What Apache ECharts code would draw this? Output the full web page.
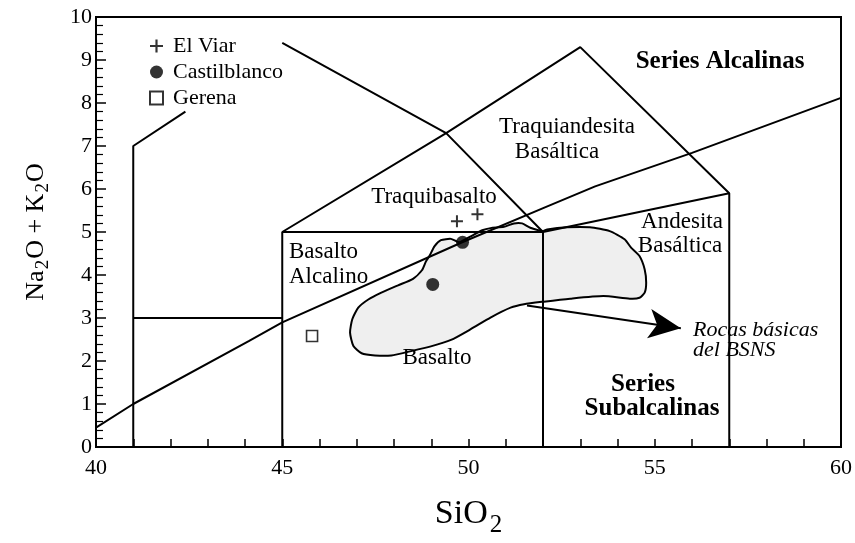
<!DOCTYPE html>
<html>
<head>
<meta charset="utf-8">
<script src="https://cdn.jsdelivr.net/npm/echarts@6/dist/echarts.min.js"></script>
<style>
  html, body { margin: 0; padding: 0; background: #fff; }
  #main { width: 855px; height: 543px; }
</style>
</head>
<body>
<div id="main"></div>
<script>
// limites de campos (diagrama TAS)
var lineFoid = [[41, 0], [41, 7], [42.4, 7.8]];
var lineBasan = [[41, 3], [45, 3]];
var lineBasalt = [[45, 0], [45, 5], [52, 5], [52, 0]];
var lineTraq = [[45, 5], [49.4, 7.3], [53, 9.3], [57, 5.9], [57, 0]];
var lineAndes = [[52, 5], [57, 5.9]];
var linePhono = [[45, 9.4], [49.4, 7.3], [52, 5]];
// linea alcalina / subalcalina
var lineDivide = [[40, 0.45], [41, 1.0], [44.1, 2.46], [45, 2.9], [49.8, 4.75], [52.1, 5.59], [53.4, 6.06], [56, 6.84], [60, 8.12]];

// campo de rocas basicas del BSNS
var fieldX = [48.95, 49.09, 49.26, 49.53, 49.75, 50.06, 50.37, 50.59, 50.95, 51.22, 51.44, 51.66, 52.0, 52.11, 52.64, 53.26, 53.79, 54.19, 54.37, 54.59, 54.73, 54.77, 54.73, 54.59, 54.33, 53.62, 52.73, 52.02, 51.49, 51.13, 50.59, 50.06, 49.53, 48.99, 48.46, 47.93, 47.49, 47.13, 46.91, 46.82, 46.88, 47.04, 47.31, 47.66, 48.11, 48.51, 48.75, 48.86];
var fieldY = [4.44, 4.67, 4.81, 4.84, 4.76, 4.90, 5.04, 5.09, 5.12, 5.20, 5.20, 5.10, 5.02, 5.06, 5.11, 5.11, 5.02, 4.83, 4.63, 4.44, 4.13, 3.82, 3.59, 3.47, 3.45, 3.51, 3.45, 3.38, 3.32, 3.24, 3.01, 2.74, 2.49, 2.34, 2.23, 2.13, 2.13, 2.18, 2.35, 2.66, 2.97, 3.24, 3.43, 3.59, 3.76, 3.91, 4.11, 4.32];
var arrowFrom = [51.57, 3.29];
var arrowTo = [55.7, 2.76];

// muestras
var elViar = [[49.69, 5.25], [50.24, 5.41]];
var castilblanco = [[49.84, 4.76], [49.04, 3.78]];
var gerena = [[45.8, 2.58]];

var xTicks = [40, 45, 50, 55, 60];

var serif = '"Liberation Serif", "DejaVu Serif", serif';
var plusPath = 'path://M5,0h2v5h5v2h-5v5h-2v-5h-5v-2h5z';

var chart = echarts.init(document.getElementById('main'));

function boundary(data) {
  return {
    type: 'line', data: data, symbol: 'none', silent: true, z: 3,
    lineStyle: { color: '#000', width: 2 }
  };
}

function label(text, x, y, opt) {
  opt = opt || {};
  return {
    type: 'text', x: x, y: y, z: 10,
    style: {
      text: text,
      font: (opt.style || '') + ' ' + (opt.size || 23) + 'px ' + serif,
      fill: '#000',
      textAlign: opt.align || 'center',
      textVerticalAlign: 'middle'
    }
  };
}

var option = {
  animation: false,
  backgroundColor: '#fff',
  grid: { left: 96, right: 9, top: 17, bottom: 95, show: true, borderColor: '#000', borderWidth: 2 },
  legend: {
    orient: 'vertical', left: 144, top: 30,
    itemWidth: 13, itemHeight: 13, itemGap: 4,
    textStyle: { fontFamily: serif, fontSize: 22, color: '#000', padding: [0, 0, 0, 5] },
    data: [
      { name: 'El Viar', icon: plusPath },
      { name: 'Castilblanco', icon: 'circle' },
      { name: 'Gerena', icon: 'rect' }
    ]
  },
  xAxis: {
    type: 'value', min: 40, max: 60, interval: 1,
    name: '{a|SiO}{b|2}', nameLocation: 'middle', nameGap: 44,
    nameTextStyle: {
      rich: {
        a: { fontFamily: serif, fontSize: 34, color: '#000' },
        b: { fontFamily: serif, fontSize: 25, color: '#000', padding: [22, 0, 0, 2] }
      }
    },
    axisLine: { lineStyle: { color: '#000', width: 2 } },
    axisTick: { inside: true, length: 8, lineStyle: { color: '#000', width: 1.5 } },
    axisLabel: {
      margin: 10, fontFamily: serif, fontSize: 22, color: '#000',
      formatter: function (v) { return xTicks.indexOf(v) >= 0 ? String(v) : ''; }
    },
    splitLine: { show: false }
  },
  yAxis: {
    type: 'value', min: 0, max: 10, interval: 1,
    name: '{a|Na}{b|2}{a|O + K}{b|2}{a|O}', nameLocation: 'middle', nameGap: 43,
    nameTextStyle: {
      rich: {
        a: { fontFamily: serif, fontSize: 26, color: '#000' },
        b: { fontFamily: serif, fontSize: 19, color: '#000', padding: [14, 1, 0, 1] }
      }
    },
    axisLine: { lineStyle: { color: '#000', width: 2 } },
    axisTick: { inside: true, length: 10, lineStyle: { color: '#000', width: 1.5 } },
    minorTick: { show: true, splitNumber: 5, length: 7, lineStyle: { color: '#000', width: 1.2 } },
    axisLabel: { margin: 4, fontFamily: serif, fontSize: 22, color: '#000' },
    splitLine: { show: false }
  },
  graphic: [
    label('Series Alcalinas', 720, 62, { style: 'bold', size: 25 }),
    label('Traquiandesita', 567, 127),
    label('Basáltica', 557, 152),
    label('Traquibasalto', 434, 197),
    label('Basalto', 289, 252, { align: 'left' }),
    label('Alcalino', 289, 277, { align: 'left' }),
    label('Andesita', 682, 222),
    label('Basáltica', 680, 246),
    label('Basalto', 437, 358),
    label('Rocas básicas', 693, 330, { style: 'italic', size: 22, align: 'left' }),
    label('del BSNS', 693, 350, { style: 'italic', size: 22, align: 'left' }),
    label('Series', 643, 385, { style: 'bold', size: 25 }),
    label('Subalcalinas', 652, 409, { style: 'bold', size: 25 })
  ],
  series: [
    {
      type: 'custom', name: 'campo', silent: true, z: 1,
      data: [0],
      renderItem: function (params, api) {
        var pts = fieldX.map(function (x, i) { return api.coord([x, fieldY[i]]); });
        return {
          type: 'polygon',
          shape: { points: pts, smooth: 0.2 },
          style: { fill: '#efefef', stroke: '#000', lineWidth: 2 }
        };
      }
    },
    boundary(lineFoid),
    boundary(lineBasan),
    boundary(lineBasalt),
    boundary(lineTraq),
    boundary(lineAndes),
    boundary(linePhono),
    boundary(lineDivide),
    {
      type: 'line', data: [], silent: true,
      markLine: {
        silent: true, symbol: ['none', 'arrow'], symbolSize: [22, 32],
        label: { show: false },
        lineStyle: { color: '#000', width: 2, type: 'solid' },
        data: [[{ coord: arrowFrom }, { coord: arrowTo }]]
      }
    },
    {
      type: 'scatter', name: 'El Viar', data: elViar, z: 5,
      symbol: plusPath, symbolSize: 12, itemStyle: { color: '#000' }
    },
    {
      type: 'scatter', name: 'Castilblanco', data: castilblanco, z: 5,
      symbol: 'circle', symbolSize: 13, itemStyle: { color: '#000' }
    },
    {
      type: 'scatter', name: 'Gerena', data: gerena, z: 5,
      symbol: 'rect', symbolSize: 11, itemStyle: { color: '#fff', borderColor: '#000', borderWidth: 1.6 }
    }
  ]
};

chart.setOption(option);
</script>
</body>
</html>
